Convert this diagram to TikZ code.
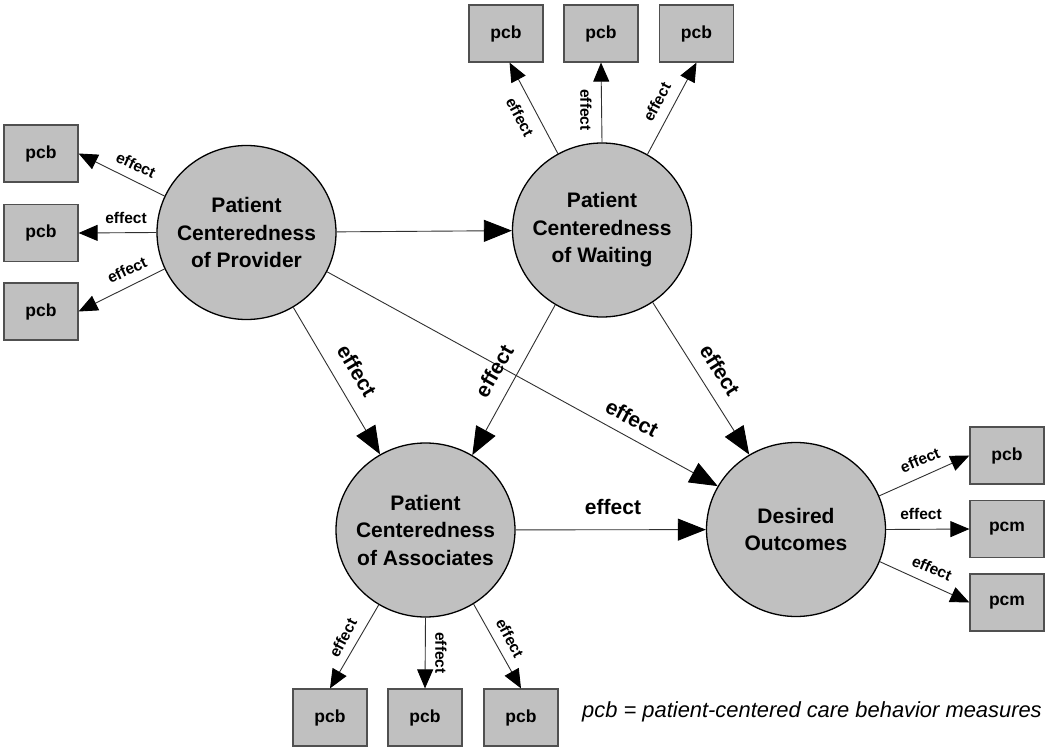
\documentclass[tikz,border=0pt]{standalone}
\usepackage{fontspec}
\setmainfont{Liberation Sans}
\usetikzlibrary{shapes.geometric,arrows.meta}
\definecolor{fillgray}{HTML}{C0C0C0}
\definecolor{edgegray}{HTML}{505050}
\definecolor{linec}{HTML}{303030}
\tikzset{
 bigc/.style={ellipse, draw=black, line width=1.3pt, fill=fillgray, minimum width=179pt, minimum height=174pt, inner xsep=-20pt, inner ysep=0pt, align=center, font=\bfseries\fontsize{21}{27.5}\selectfont},
 pbox/.style={rectangle, draw=edgegray, line width=1.2pt, fill=fillgray, minimum width=74pt, minimum height=57pt, inner sep=0pt, font=\bfseries\fontsize{17.5}{20}\selectfont},
 sarr/.style={draw=linec, line width=0.9pt, -{Triangle[length=19pt,width=16pt,color=black]}},
 marr/.style={draw=linec, line width=0.9pt, -{Triangle[length=28pt,width=22pt,color=black]}},
 slab/.style={font=\bfseries\fontsize{15.5}{18}\selectfont, inner sep=0pt},
 mlab/.style={font=\bfseries\fontsize{21}{25}\selectfont, inner sep=0pt},
}
\begin{document}
\begin{tikzpicture}[x=1pt,y=-1pt]
\useasboundingbox[fill=white] (0,0) rectangle (1050,754);
% main constructs
\node[bigc] (prov) at (246.5,232.5) {Patient\\Centeredness\\of Provider};
\node[bigc] (wait) at (602,230) {Patient\\Centeredness\\of Waiting};
\node[bigc] (assoc) at (425.5,530) {Patient\\Centeredness\\of Associates};
\node[bigc] (des) at (796,529.5) {Desired\\Outcomes};
% measure boxes
\node[pbox] (L1) at (41,153.5) {pcb};
\node[pbox] (L2) at (41,233) {pcb};
\node[pbox] (L3) at (41,311.5) {pcb};
\node[pbox] (T1) at (506,33.5) {pcb};
\node[pbox] (T2) at (601,33.5) {pcb};
\node[pbox] (T3) at (696.5,33.5) {pcb};
\node[pbox] (B1) at (330,717.5) {pcb};
\node[pbox] (B2) at (425,717.5) {pcb};
\node[pbox] (B3) at (521,717.5) {pcb};
\node[pbox] (R1) at (1007,455.5) {pcb};
\node[pbox] (R2) at (1007,529) {pcm};
\node[pbox] (R3) at (1007,602.5) {pcm};
% side connectors
\draw[sarr] (prov.156) -- (L1.east);
\draw[sarr] (prov.180) -- (L2.east);
\draw[sarr] (prov.204.4) -- (L3.east);
\draw[sarr] (wait.120.3) -- (T1.-83);
\draw[sarr] (wait.90) -- (T2.south);
\draw[sarr] (wait.59.7) -- (T3.south);
\draw[sarr] (assoc.238.2) -- (B1.north);
\draw[sarr] (assoc.270) -- (B2.north);
\draw[sarr] (assoc.-57.7) -- (B3.north);
\draw[sarr] (des.22.3) -- (R1.west);
\draw[sarr] (des.0) -- (R2.west);
\draw[sarr] (des.-21.7) -- (R3.west);
% main connectors
\draw[marr] (prov) -- (wait);
\draw[marr] (prov.-58.4) -- (assoc.121.1);
\draw[marr] (wait.238.5) -- (assoc.58.9);
\draw[marr] (wait.-55.6) -- (des.122.8);
\draw[marr] (prov.-26.7) -- (des.151.7);
\draw[marr] (assoc) -- (des);
% side labels
\node[slab, rotate=-25] (lL1) at (136,165) {effect};
\node[slab] (lL2) at (126,218) {effect};
\node[slab, rotate=25] (lL3) at (127,270) {effect};
\node[slab, rotate=-62] (lT1) at (520,117) {effect};
\node[slab, rotate=-90] (lT2) at (586,110) {effect};
\node[slab, rotate=62] (lT3) at (657,102) {effect};
\node[slab, rotate=62] (lB1) at (343,638) {effect};
\node[slab, rotate=-90] (lB2) at (441,653) {effect};
\node[slab, rotate=-62] (lB3) at (510,638) {effect};
\node[slab, rotate=23] (lR1) at (920,460) {effect};
\node[slab] (lR2) at (921,514) {effect};
\node[slab, rotate=-23] (lR3) at (932,568) {effect};
% main labels
\node[mlab, rotate=-59] (mPA) at (357,371) {effect};
\node[mlab, rotate=60] (mWA) at (494,371) {effect};
\node[mlab, rotate=-28] (mPD) at (632,418) {effect};
\node[mlab, rotate=-58] (mWD) at (720,370) {effect};
\node[mlab] (mAD) at (613,507) {effect};
% legend
\node[anchor=base west, inner sep=0pt, font=\itshape\fontsize{21.9}{24}\selectfont] (legend) at (582,717) {pcb = patient-centered care behavior measures};
\end{tikzpicture}
\end{document}
